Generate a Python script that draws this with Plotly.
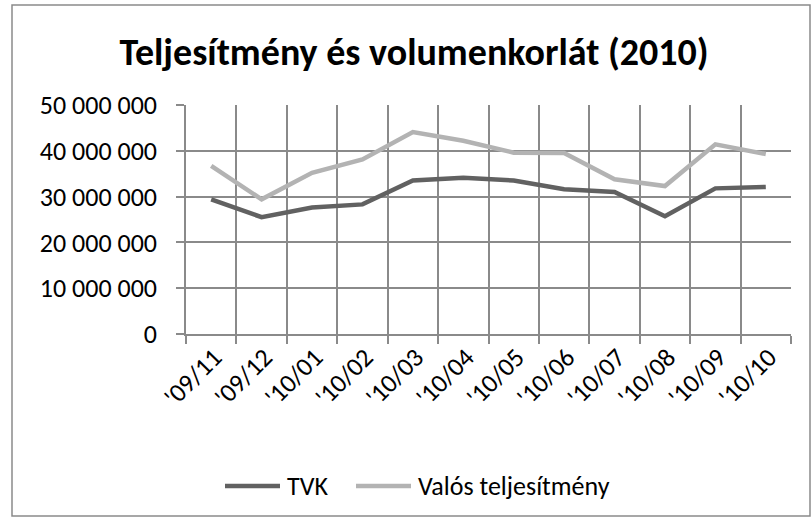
import plotly.graph_objects as go

# ---- data ----
categories = ["'09/11", "'09/12", "'10/01", "'10/02", "'10/03", "'10/04",
              "'10/05", "'10/06", "'10/07", "'10/08", "'10/09", "'10/10"]
tvk = [29.4e6, 25.5e6, 27.6e6, 28.3e6, 33.5e6, 34.1e6,
       33.5e6, 31.6e6, 31.0e6, 25.7e6, 31.8e6, 32.1e6]
valos = [36.7e6, 29.4e6, 35.2e6, 38.1e6, 44.1e6, 42.2e6,
         39.6e6, 39.5e6, 33.8e6, 32.3e6, 41.4e6, 39.3e6]
y_tick_vals = [0, 10e6, 20e6, 30e6, 40e6, 50e6]
y_tick_text = ["0", "10 000 000", "20 000 000", "30 000 000", "40 000 000", "50 000 000"]
series_names = ["TVK", "Valós teljesítmény"]
series_colors = ["#616161", "#b3b3b3"]
title_text = "Teljesítmény és volumenkorlát (2010)"

# ---- layout geometry ----
W, H = 812, 522
L, R, T, B = 186, 21, 105, 188
pw, ph = W - L - R, H - T - B
FONT = "Carlito, Lato, sans-serif"
FS = 26
GRID = "#8a8a8a"


def px(x):
    return (x - L) / pw


def py(y):
    return (H - B - y) / ph


fig = go.Figure()
for name, vals, col in zip(series_names, [tvk, valos], series_colors):
    fig.add_trace(go.Scatter(x=categories, y=vals, mode="lines", name=name,
                             line=dict(color=col, width=4.5),
                             showlegend=False, hoverinfo="skip"))

fig.update_layout(
    width=W, height=H,
    margin=dict(l=L, r=R, t=T, b=B),
    paper_bgcolor="white", plot_bgcolor="white",
    font=dict(family=FONT, color="black", size=FS),
    title=dict(text="<b>" + title_text + "</b>", xref="container", x=414 / W,
               xanchor="center", y=1 - 52 / H, yref="container",
               yanchor="middle", font=dict(size=38, family=FONT, color="black")),
)

fig.update_xaxes(type="category", tickson="boundaries", range=[-0.5, 11.5],
                 showgrid=True, gridcolor=GRID, gridwidth=1.5,
                 showline=True, linecolor=GRID, linewidth=1.5,
                 ticks="outside", ticklen=8, tickcolor=GRID, tickwidth=1.5,
                 tickangle=-45, tickfont=dict(size=FS, family=FONT),
                 ticklabelshift=3, ticklabelstandoff=-4, fixedrange=True)
fig.update_yaxes(range=[0, 50e6], tickvals=y_tick_vals, ticktext=y_tick_text,
                 showgrid=True, gridcolor=GRID, gridwidth=1.5,
                 showline=True, linecolor=GRID, linewidth=1.5,
                 ticks="outside", ticklen=8, tickcolor=GRID, tickwidth=1.5,
                 tickfont=dict(size=FS, family=FONT), zeroline=False,
                 ticklabelstandoff=14, fixedrange=True)

# outer chart border
fig.add_shape(type="rect", xref="paper", yref="paper",
              x0=px(12), x1=px(810), y0=py(516), y1=py(5),
              line=dict(color=GRID, width=1.5), fillcolor="rgba(0,0,0,0)")

# custom legend
legend_items = [(225, 280, 285), (356, 411, 416)]
for (x0, x1, tx), name, col in zip(legend_items, series_names, series_colors):
    fig.add_shape(type="line", xref="paper", yref="paper",
                  x0=px(x0), x1=px(x1), y0=py(486), y1=py(486),
                  line=dict(color=col, width=4.5))
    fig.add_annotation(xref="paper", yref="paper", x=px(tx), y=py(486),
                       text=name, showarrow=False, xanchor="left",
                       yanchor="middle", font=dict(size=FS, family=FONT))

fig.write_html("out.html", config={"displayModeBar": False},
               post_script="document.body.style.margin='0';document.body.style.overflow='hidden';")
